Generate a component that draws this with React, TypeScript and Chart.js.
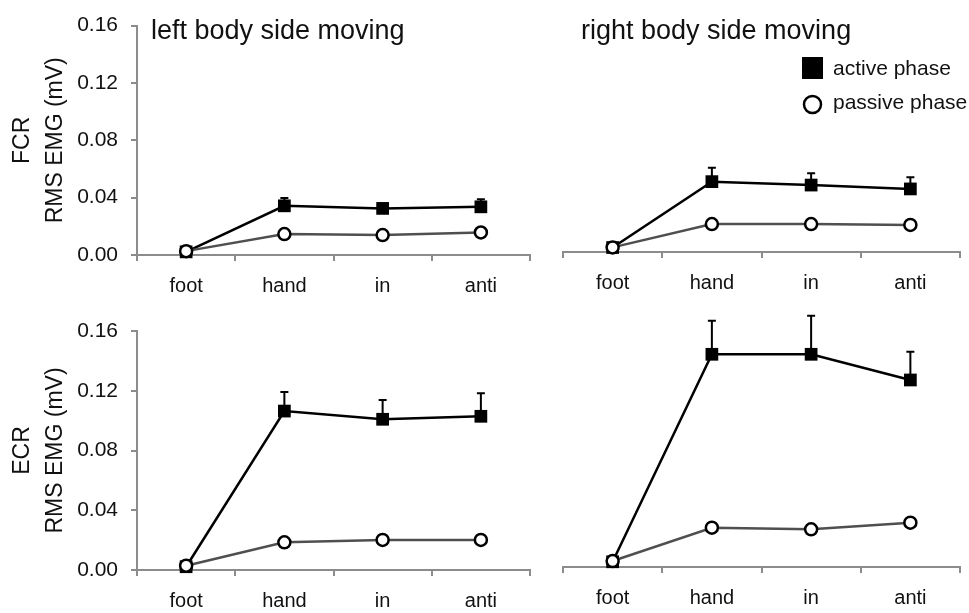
import React, { useEffect, useRef } from 'react';
import { Chart, registerables } from 'chart.js';

Chart.register(...registerables);

// ---- data ----
const categories = ['foot', 'hand', 'in', 'anti'];
const yTickValues = [0, 0.04, 0.08, 0.12, 0.16];

// FCR, left body side moving
const fcrLeftActive = [0.0022, 0.0343, 0.0325, 0.0336];
const fcrLeftActiveSd = [0, 0.0054, 0.003, 0.0052];
const fcrLeftPassive = [0.0027, 0.0146, 0.0139, 0.0157];

// FCR, right body side moving
const fcrRightActive = [0.003, 0.0473, 0.045, 0.0424];
const fcrRightActiveSd = [0, 0.0094, 0.0079, 0.0078];
const fcrRightPassive = [0.0031, 0.0188, 0.0188, 0.0182];

// ECR, left body side moving
const ecrLeftActive = [0.0022, 0.1064, 0.1009, 0.1029];
const ecrLeftActiveSd = [0, 0.0128, 0.0129, 0.0154];
const ecrLeftPassive = [0.0029, 0.0185, 0.0201, 0.0201];

// ECR, right body side moving
const ecrRightActive = [0.0035, 0.1424, 0.1424, 0.1252];
const ecrRightActiveSd = [0, 0.0225, 0.0258, 0.0189];
const ecrRightPassive = [0.004, 0.0263, 0.0252, 0.0297];

const FONT = "'Liberation Sans', Arial, Helvetica, sans-serif";
const TEXT = '#111111';
const AXIS = '#8c8c8c';

// upward-only error bars with a cap
const errorBars = {
  id: 'errorBars',
  beforeDatasetsDraw(chart: any) {
    const ctx = chart.ctx;
    const y = chart.scales.y;
    ctx.save();
    ctx.strokeStyle = '#000';
    ctx.lineWidth = 2;
    chart.data.datasets.forEach((ds: any, di: number) => {
      if (!ds.errors) return;
      const meta = chart.getDatasetMeta(di);
      ds.data.forEach((v: number, i: number) => {
        const e = ds.errors[i];
        if (!e) return;
        const px = meta.data[i].x;
        const y0 = y.getPixelForValue(v);
        const y1 = y.getPixelForValue(v + e);
        ctx.beginPath();
        ctx.moveTo(px, y0);
        ctx.lineTo(px, y1);
        ctx.moveTo(px - 4, y1);
        ctx.lineTo(px + 4, y1);
        ctx.stroke();
      });
    });
    ctx.restore();
  },
};

// panel caption and legend
const panelText = {
  id: 'panelText',
  afterDraw(chart: any, _args: any, opts: any) {
    const ctx = chart.ctx;
    ctx.save();
    ctx.fillStyle = TEXT;
    ctx.textAlign = 'left';
    ctx.textBaseline = 'alphabetic';
    if (opts.caption) {
      ctx.font = `27px ${FONT}`;
      ctx.fillText(opts.caption, opts.captionX, opts.captionY);
    }
    if (opts.legend) {
      const lx = opts.legendX;
      const ly = opts.legendY;
      ctx.fillStyle = '#000';
      ctx.fillRect(lx, ly, 21, 22);
      ctx.beginPath();
      ctx.arc(lx + 10.5, ly + 47.5, 8.5, 0, Math.PI * 2);
      ctx.fillStyle = '#fff';
      ctx.fill();
      ctx.lineWidth = 2.5;
      ctx.strokeStyle = '#000';
      ctx.stroke();
      ctx.fillStyle = TEXT;
      ctx.font = `21px ${FONT}`;
      ctx.fillText('active phase', lx + 31, ly + 18);
      ctx.fillText('passive phase', lx + 31, ly + 51.5);
    }
    ctx.restore();
  },
};

type PanelProps = {
  left: number;
  top: number;
  width: number;
  height: number;
  area: { l: number; t: number; r: number; b: number };
  showY: boolean;
  muscle: string;
  active: number[];
  activeSd: number[];
  passive: number[];
  text: any;
};

const X_AXIS_H = 38;
const Y_AXIS_W = 137;

function Panel(p: PanelProps) {
  const ref = useRef<HTMLCanvasElement>(null);

  useEffect(() => {
    if (!ref.current) return;
    const yW = p.showY ? Y_AXIS_W : 0;
    const padding = {
      left: p.area.l - p.left - yW,
      top: p.area.t - p.top,
      right: p.left + p.width - p.area.r,
      bottom: p.top + p.height - p.area.b - X_AXIS_H,
    };

    const yScale: any = {
      display: p.showY,
      min: 0,
      max: 0.16,
      afterBuildTicks: (s: any) => {
        s.ticks = yTickValues.map((v) => ({ value: v }));
      },
      ticks: {
        callback: (v: any) => Number(v).toFixed(2),
        padding: 13,
        color: TEXT,
        font: { family: FONT, size: 21 },
      },
      grid: {
        display: true,
        drawOnChartArea: false,
        drawTicks: true,
        tickLength: 6,
        color: AXIS,
        lineWidth: 2,
      },
      border: { display: true, color: AXIS, width: 2 },
      title: {
        display: true,
        text: [p.muscle, 'RMS EMG (mV)'],
        color: TEXT,
        font: { family: FONT, size: 23, lineHeight: 1.43 },
        padding: { top: 6, bottom: 0 },
      },
    };
    if (p.showY) {
      yScale.afterFit = (s: any) => {
        s.width = Y_AXIS_W;
      };
    }

    const chart = new Chart(ref.current, {
      type: 'line',
      data: {
        labels: categories,
        datasets: [
          {
            label: 'passive phase',
            data: p.passive,
            order: 0,
            clip: false,
            borderColor: '#4f4f4f',
            borderWidth: 2.5,
            tension: 0,
            pointStyle: 'circle',
            pointRadius: 6,
            pointBackgroundColor: '#fff',
            pointBorderColor: '#000',
            pointBorderWidth: 2.5,
          } as any,
          {
            label: 'active phase',
            data: p.active,
            errors: p.activeSd,
            order: 1,
            clip: false,
            borderColor: '#000',
            borderWidth: 2.5,
            tension: 0,
            pointStyle: 'rect',
            pointRadius: 9,
            pointBackgroundColor: '#000',
            pointBorderColor: '#000',
            pointBorderWidth: 0,
          } as any,
        ],
      },
      options: {
        responsive: false,
        animation: false,
        events: [],
        layout: { padding },
        plugins: {
          legend: { display: false },
          tooltip: { enabled: false },
          panelText: p.text,
        } as any,
        scales: {
          x: {
            type: 'category',
            offset: true,
            grid: {
              display: true,
              offset: true,
              drawOnChartArea: false,
              drawTicks: true,
              tickLength: 6,
              color: AXIS,
              lineWidth: 2,
            },
            border: { display: true, color: AXIS, width: 2 },
            ticks: {
              padding: 13,
              color: TEXT,
              font: { family: FONT, size: 20 },
              maxRotation: 0,
              autoSkip: false,
            },
            afterFit: (s: any) => {
              s.height = X_AXIS_H;
            },
          } as any,
          y: yScale,
        },
      },
      plugins: [errorBars, panelText],
    });
    return () => chart.destroy();
  }, []);

  return (
    <canvas
      ref={ref}
      width={p.width}
      height={p.height}
      style={{
        position: 'absolute',
        left: p.left,
        top: p.top,
        width: p.width,
        height: p.height,
        display: 'block',
      }}
    />
  );
}

export default function App() {
  return (
    <div
      style={{
        position: 'absolute',
        left: 0,
        top: 0,
        width: 969,
        height: 613,
        background: '#fff',
        overflow: 'hidden',
      }}
    >
      <Panel
        left={0}
        top={0}
        width={540}
        height={305}
        area={{ l: 137, t: 17, r: 530, b: 255 }}
        showY={true}
        muscle="FCR"
        active={fcrLeftActive}
        activeSd={fcrLeftActiveSd}
        passive={fcrLeftPassive}
        text={{ caption: 'left body side moving', captionX: 151, captionY: 39 }}
      />
      <Panel
        left={540}
        top={0}
        width={429}
        height={305}
        area={{ l: 563, t: 14, r: 968, b: 252 }}
        showY={false}
        muscle="FCR"
        active={fcrRightActive}
        activeSd={fcrRightActiveSd}
        passive={fcrRightPassive}
        text={{
          caption: 'right body side moving',
          captionX: 41,
          captionY: 39,
          legend: true,
          legendX: 262,
          legendY: 57,
        }}
      />
      <Panel
        left={0}
        top={305}
        width={540}
        height={308}
        area={{ l: 137, t: 331, r: 530, b: 570 }}
        showY={true}
        muscle="ECR"
        active={ecrLeftActive}
        activeSd={ecrLeftActiveSd}
        passive={ecrLeftPassive}
        text={{}}
      />
      <Panel
        left={540}
        top={305}
        width={429}
        height={308}
        area={{ l: 563, t: 328, r: 968, b: 567 }}
        showY={false}
        muscle="ECR"
        active={ecrRightActive}
        activeSd={ecrRightActiveSd}
        passive={ecrRightPassive}
        text={{}}
      />
    </div>
  );
}
